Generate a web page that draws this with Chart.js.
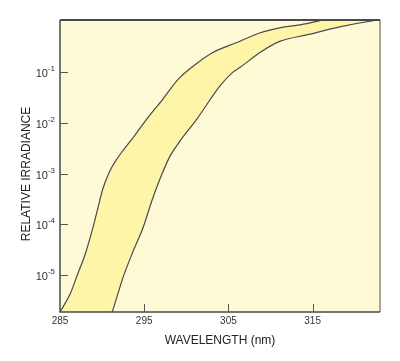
<!DOCTYPE html>
<html>
<head>
<meta charset="utf-8">
<script src="https://cdn.jsdelivr.net/npm/chart.js@4.4.1/dist/chart.umd.min.js"></script>
<style>
  html, body { margin: 0; padding: 0; background: #fff; }
  #wrap { width: 400px; height: 361px; }
</style>
</head>
<body>
<div id="wrap"><canvas id="canvas"></canvas></div>
<script>
// axis limits
var wlMin = 285;
var wlMax = 323;
var irrMin = 1.86e-6;
var irrMax = 1.084;

var xTicks = [285, 295, 305, 315];
var yTicks = [1e-1, 1e-2, 1e-3, 1e-4, 1e-5];
var yExp = ["-1", "-2", "-3", "-4", "-5"];

// upper edge of the band (left curve), last point runs off the top
var upperWl = [285.0, 286.2, 287.1, 288.0, 288.9, 289.5, 290.1, 290.9, 291.8, 292.5, 293.7, 295.3, 297.2, 299.0, 300.8, 303.1, 306.0, 308.7, 311.1, 313.5, 316.2, 323];
var upperVal = [1.86e-6, 4.2e-6, 1.05e-5, 2.6e-5, 8.5e-5, 2.1e-4, 5.1e-4, 1.12e-3, 2.0e-3, 2.9e-3, 5.2e-3, 0.012, 0.0295, 0.072, 0.132, 0.245, 0.39, 0.60, 0.76, 0.87, 1.084, 2.0];

// lower edge of the band (right curve), first points run below the bottom
var lowerWl = [285, 290.0, 291.2, 292.5, 293.7, 294.85, 295.9, 296.9, 298.05, 299.2, 301.25, 304.0, 305.5, 306.4, 308.7, 311.1, 314.3, 318.2, 322.7, 323];
var lowerVal = [1e-8, 5e-7, 1.86e-6, 9.1e-6, 3.0e-5, 8.5e-5, 2.9e-4, 8.1e-4, 2.2e-3, 4.3e-3, 0.012, 0.054, 0.10, 0.126, 0.245, 0.41, 0.55, 0.79, 1.084, 1.1];

function pts(xs, ys) {
  var out = [];
  for (var i = 0; i < xs.length; i++) {
    out.push({ x: xs[i], y: ys[i] });
  }
  return out;
}

var fontFam = "'Liberation Sans', Arial, Helvetica, sans-serif";

var framePlugin = {
  id: "frame",
  beforeDatasetsDraw: function (chart) {
    var a = chart.chartArea;
    var c = chart.ctx;
    c.save();
    c.fillStyle = "#fffad6";
    c.fillRect(a.left, a.top, a.right - a.left, a.bottom - a.top);
    c.restore();
  },
  afterDraw: function (chart) {
    var a = chart.chartArea;
    var c = chart.ctx;
    var xs = chart.scales.x;
    var ys = chart.scales.y;
    c.save();
    // frame
    c.lineWidth = 1.5;
    c.strokeStyle = "#8c8a7c";
    c.beginPath();
    c.moveTo(a.right, a.top);
    c.lineTo(a.right, a.bottom);
    c.stroke();
    c.strokeStyle = "#4a4a4a";
    c.beginPath();
    c.moveTo(a.left, a.top);
    c.lineTo(a.left, a.bottom);
    c.lineTo(a.right, a.bottom);
    c.stroke();
    c.lineWidth = 2;
    c.beginPath();
    c.moveTo(a.left, a.top);
    c.lineTo(a.right, a.top);
    c.stroke();

    // inward ticks
    c.lineWidth = 1;
    c.strokeStyle = "#555";
    for (var i = 1; i < xTicks.length; i++) {
      var px = Math.round(xs.getPixelForValue(xTicks[i])) + 0.5;
      c.beginPath();
      c.moveTo(px, a.bottom);
      c.lineTo(px, a.bottom - 8);
      c.stroke();
    }
    for (var j = 0; j < yTicks.length; j++) {
      var py = Math.round(ys.getPixelForValue(yTicks[j])) + 0.5;
      c.beginPath();
      c.moveTo(a.left, py);
      c.lineTo(a.left + 8, py);
      c.stroke();
      // label 10 with exponent
      c.fillStyle = "#333";
      c.textBaseline = "middle";
      c.textAlign = "right";
      c.font = "8px " + fontFam;
      var ew = c.measureText(yExp[j]).width;
      var right = a.left - 5;
      c.fillText(yExp[j], right, py - 4);
      c.font = "11px " + fontFam;
      c.fillText("10", right - ew, py + 1);
    }

    // y title
    c.translate(27, 174);
    c.rotate(-Math.PI / 2);
    c.textAlign = "center";
    c.textBaseline = "middle";
    c.font = "12px " + fontFam;
    c.fillStyle = "#222";
    c.fillText("RELATIVE IRRADIANCE", 0, 0);
    c.restore();
  }
};

var ctx = document.getElementById("canvas").getContext("2d");

new Chart(ctx, {
  type: "scatter",
  data: {
    datasets: [
      {
        label: "upper",
        data: pts(upperWl, upperVal),
        showLine: true,
        borderColor: "#4a4a4a",
        borderWidth: 1.2,
        pointRadius: 0,
        cubicInterpolationMode: "monotone",
        fill: false
      },
      {
        label: "lower",
        data: pts(lowerWl, lowerVal),
        showLine: true,
        borderColor: "#4a4a4a",
        borderWidth: 1.2,
        pointRadius: 0,
        cubicInterpolationMode: "monotone",
        fill: "-1",
        backgroundColor: "#fff5a8"
      }
    ]
  },
  options: {
    responsive: true,
    maintainAspectRatio: false,
    animation: false,
    layout: { padding: { left: 60, right: 20, top: 20, bottom: 11.6 } },
    plugins: {
      legend: { display: false },
      tooltip: { enabled: false }
    },
    scales: {
      x: {
        type: "linear",
        min: wlMin,
        max: wlMax,
        afterBuildTicks: function (axis) {
          axis.ticks = xTicks.map(function (v) { return { value: v }; });
        },
        grid: { display: false, drawTicks: false },
        border: { display: false },
        ticks: {
          color: "#333",
          font: { size: 10, family: fontFam },
          padding: 3,
          maxRotation: 0
        },
        title: {
          display: true,
          text: "WAVELENGTH (nm)",
          color: "#222",
          font: { size: 12, family: fontFam },
          padding: { top: 3, bottom: 2 }
        }
      },
      y: {
        type: "logarithmic",
        min: irrMin,
        max: irrMax,
        display: false
      }
    }
  },
  plugins: [framePlugin]
});
</script>
</body>
</html>
